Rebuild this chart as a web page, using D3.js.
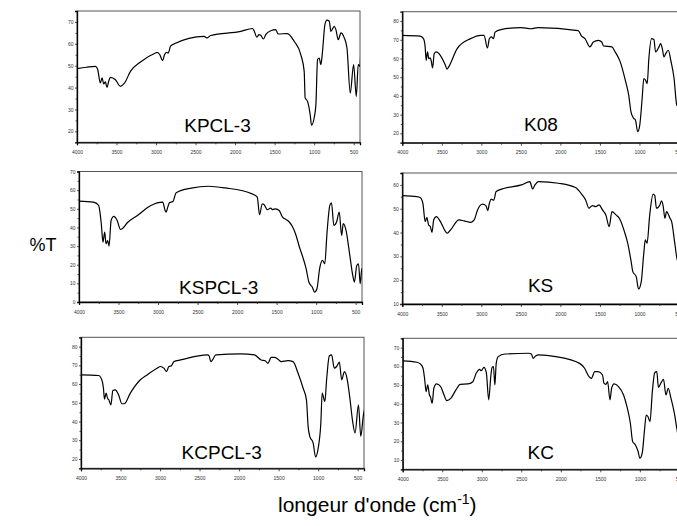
<!DOCTYPE html>
<html>
<head>
<meta charset="utf-8">
<script src="https://cdn.jsdelivr.net/npm/d3@7"></script>
<style>
  html, body { margin: 0; padding: 0; background: #fff; }
  svg { display: block; }
</style>
</head>
<body>
<svg id="chart" width="677" height="526"></svg>
<script>
// ---------- DATA (wavenumber cm-1, %T) ----------
const KPCL3 = [[4000,48.7],[3880,49.3],[3768,49.7],[3740,48.5],[3704,42.1],[3683,44.4],[3662,41.7],[3641,42.6],[3620,40.1],[3599,42.9],[3577,44.7],[3514,43.6],[3451,40.6],[3400,42],[3324,47.4],[3197,51.7],[3007,55.8],[2986,56.1],[2952,55],[2918,52.3],[2893,55],[2867,56.1],[2846,55.8],[2817,58.9],[2774,59.9],[2394,63.4],[2352,62.7],[2310,63.8],[1929,65.7],[1781,67],[1760,66],[1726,63.1],[1697,64.2],[1676,63.9],[1642,62.2],[1612,64.2],[1549,66],[1486,66.5],[1456,64.5],[1338,64.7],[1253,61.2],[1169,55.1],[1126,47.4],[1114,35.3],[1084,33.7],[1050,27.6],[1033,22.8],[1000,26.1],[978,32.2],[957,52.8],[936,53.5],[915,50.5],[894,56.6],[864,68.8],[839,70.8],[809,70.3],[788,65.7],[746,68],[725,66.5],[695,61.9],[661,65],[619,62.7],[585,58.1],[543,37.5],[501,50.5],[467,36],[442,50.5],[421,49.7],[408,59.5]];

const K08 = [[4000,72.4],[3774,72],[3732,70.6],[3711,66.2],[3698,59],[3681,63.5],[3664,59.9],[3647,60.3],[3634,58.7],[3617,55],[3596,62.6],[3570,63.5],[3519,61.7],[3455,56.4],[3434,54.3],[3413,55.5],[3306,65.3],[3136,70.6],[3009,72.4],[2966,72.4],[2923,65.6],[2898,70.6],[2872,71.5],[2847,70.6],[2826,74.1],[2753,75.4],[2498,76.5],[2370,75.9],[2285,76.5],[1775,74.9],[1732,72],[1689,70.6],[1626,66.2],[1583,68.8],[1519,69.7],[1477,68.8],[1455,66.7],[1349,66.2],[1307,63.5],[1243,58.2],[1179,48.4],[1136,40.4],[1107,31.5],[1073,28],[1051,27.1],[1022,20.9],[996,24.4],[966,38.6],[945,49.3],[923,48.4],[902,46.6],[881,59.9],[847,70.6],[817,70.1],[796,63.5],[753,66.2],[732,67.9],[711,65.3],[690,60.8],[668,62.6],[634,64.4],[604,59.1],[562,49.3],[528,35.1],[507,34.2],[494,40.4],[470,50]];

const KSPCL3 = [[4000,54.1],[3816,53.6],[3752,51.8],[3718,42],[3697,32.1],[3675,37.5],[3658,31.2],[3637,33],[3620,30],[3594,43.7],[3560,45.9],[3517,43.7],[3475,38.9],[3453,39.3],[3389,42.5],[3261,46.4],[3091,51.8],[2941,53.6],[2911,49.1],[2898,48.2],[2877,50.9],[2856,53.2],[2813,53.9],[2770,58.6],[2578,61.1],[2365,62.1],[2151,61.2],[1810,58],[1745,56.2],[1716,46.8],[1682,52.7],[1660,52.3],[1617,49.5],[1575,50.4],[1553,49.6],[1511,50],[1468,49.1],[1425,45.5],[1383,44.3],[1340,42.9],[1297,40.2],[1254,35.7],[1212,29.5],[1169,24.1],[1127,17.9],[1092,10.7],[1049,8],[1020,5.3],[990,7.1],[956,17.9],[921,22.3],[891,20.5],[862,37.5],[827,51.8],[806,53.2],[776,41.1],[742,42.9],[708,48.2],[678,35.7],[657,42],[622,38.4],[580,26.8],[537,14.3],[516,10.7],[486,19.6],[464,20.5],[443,9.8],[422,17.9],[400,17.9],[379,25]];

const KS = [[4000,55.5],[3816,55.1],[3774,54.7],[3740,52.3],[3710,44.6],[3689,46.3],[3667,43.2],[3646,42.5],[3624,40.1],[3603,45.3],[3569,46.7],[3518,44.6],[3453,40.4],[3432,39.7],[3389,41.1],[3283,45.3],[3219,44.9],[3133,44.3],[3091,45.3],[3048,49.5],[2984,51.9],[2941,51.2],[2920,49.2],[2898,52.3],[2877,54],[2843,53.6],[2813,57.2],[2706,58.6],[2493,60],[2386,61.4],[2352,58.3],[2322,60],[2279,61.4],[2023,60.7],[1810,58.9],[1724,55.8],[1681,53.7],[1639,50.2],[1596,51.3],[1553,50.9],[1510,51.6],[1468,49.5],[1425,47.4],[1383,42.5],[1348,48.8],[1297,47.4],[1254,46],[1190,40.4],[1148,35.5],[1105,27.8],[1084,23.6],[1041,21.5],[1011,16.3],[977,19.4],[947,30.6],[926,36.9],[904,35.5],[870,47.4],[827,56.1],[806,55.5],[785,50.2],[742,51.6],[721,53.3],[699,50.9],[678,46],[657,48.8],[614,46],[593,44.6],[550,34.8],[516,27.8],[494,28.5],[482,34.1],[460,40]];

const KCPCL3 = [[4000,64.9],[3779,64.6],[3737,62.3],[3716,57.8],[3703,52],[3682,55.2],[3665,52.5],[3648,51.6],[3622,48.9],[3597,56.6],[3567,56.9],[3525,54.3],[3482,49.5],[3453,49.5],[3376,55.2],[3249,62.3],[3164,64.9],[3037,68.5],[2994,69.4],[2952,68.5],[2918,66.7],[2888,69.4],[2858,69.7],[2824,72],[2740,72.9],[2400,75.6],[2379,75],[2358,72],[2337,72.9],[2294,75.6],[1976,76.1],[1806,75.6],[1721,72.9],[1670,72.5],[1636,71.1],[1594,74.3],[1551,74.3],[1509,73.3],[1466,72],[1381,72.5],[1318,72],[1254,65.8],[1190,57.8],[1148,51.6],[1127,37.4],[1106,32.1],[1063,28.5],[1033,21.1],[999,25.9],[966,39.2],[949,55.2],[915,50.7],[893,62.3],[859,75],[830,75.6],[796,68.5],[766,69.4],[732,71.7],[702,62.3],[668,66.7],[635,63.1],[596,51.6],[567,41],[533,33.9],[490,48.9],[461,32.1],[427,43.6],[405,48]];

const KC = [[4000,62.9],[3820,62.2],[3777,61.3],[3743,59],[3721,52.7],[3704,46.5],[3683,50.1],[3662,44.7],[3649,43.8],[3627,40.3],[3606,48.3],[3572,50.6],[3520,49.2],[3477,44.7],[3443,41.7],[3392,42.9],[3327,47.4],[3272,50.4],[3177,50.6],[3113,51.8],[3070,56.3],[3027,58.4],[3006,57.7],[2972,59.5],[2942,56.6],[2912,42.1],[2886,54.5],[2869,59.5],[2852,59.9],[2834,50.1],[2817,61.6],[2792,65.2],[2706,66.6],[2406,67],[2372,66.6],[2350,64.3],[2320,65.5],[2277,66.1],[2063,65.2],[1763,61.6],[1699,59],[1643,54.5],[1613,53.6],[1571,57.2],[1528,57.2],[1472,55.4],[1455,51],[1430,50.4],[1408,51.8],[1378,42.1],[1357,48.3],[1327,50.6],[1270,49.2],[1206,44.7],[1163,38.5],[1120,29.6],[1091,19.8],[1056,18],[1022,14.5],[1000,10.9],[970,13.6],[941,26],[919,34],[898,33.2],[872,30.5],[842,46.5],[812,56.6],[786,57.2],[765,48.8],[735,51],[701,53.1],[670,44.7],[641,48.3],[606,42.9],[563,34.9],[529,26],[499,19.8],[478,27.8],[460,35]];

const sampleNames = ["KPCL-3", "K08", "KSPCL-3", "KS", "KCPCL-3", "KC"];
const xTickLabels = [4000, 3500, 3000, 2500, 2000, 1500, 1000, 500];
const yTicksKPCL3  = [20, 30, 40, 50, 60, 70];
const yTicksK08    = [20, 30, 40, 50, 60, 70, 80];
const yTicksKSPCL3 = [0, 10, 20, 30, 40, 50, 60, 70];
const yTicksKS     = [10, 20, 30, 40, 50, 60];
const yTicksKCPCL3 = [20, 30, 40, 50, 60, 70, 80];
const yTicksKC     = [10, 20, 30, 40, 50, 60, 70];
const yDomains = [[15, 75], [15, 85], [0, 70], [10, 65], [15, 85], [5, 75]];
const xDomain = [4000, 420];
const yAxisTitle = "%T";
const xAxisTitle = "longeur d'onde (cm";

// ---------- LAYOUT ----------
const seriesList = [KPCL3, K08, KSPCL3, KS, KCPCL3, KC];
const yTickList = [yTicksKPCL3, yTicksK08, yTicksKSPCL3, yTicksKS, yTicksKCPCL3, yTicksKC];
const boxes = [
  {x0: 77,    x1: 360,   y0: 11,    y1: 142.3, lx: 217.5, ly: 131.7},
  {x0: 402.3, x1: 685.3, y0: 11.7,  y1: 142.7, lx: 541,   ly: 131},
  {x0: 79,    x1: 362,   y0: 171.5, y1: 302,   lx: 218.7, ly: 294.3},
  {x0: 402.3, x1: 685.3, y0: 173,   y1: 304,   lx: 540.6, ly: 291.7},
  {x0: 81,    x1: 364,   y0: 337.3, y1: 468.3, lx: 221.7, ly: 459.3},
  {x0: 402.7, x1: 685.7, y0: 338.3, y1: 469.3, lx: 540.7, ly: 459.3}
];

const svg = d3.select("#chart");
const font = "'Liberation Sans', Arial, Helvetica, sans-serif";
const defs = svg.append("defs");

boxes.forEach((b, i) => {
  const x = d3.scaleLinear().domain(xDomain).range([b.x0, b.x1]);
  const y = d3.scaleLinear().domain(yDomains[i]).range([b.y1, b.y0]);
  const g = svg.append("g");

  defs.append("clipPath").attr("id", "clip" + i)
    .append("rect").attr("x", b.x0).attr("y", b.y0)
    .attr("width", b.x1 - b.x0).attr("height", b.y1 - b.y0);

  // frame
  g.append("rect").attr("x", b.x0).attr("y", b.y0)
    .attr("width", b.x1 - b.x0).attr("height", b.y1 - b.y0)
    .attr("fill", "none").attr("stroke", "#555").attr("stroke-width", 1);

  // x axis
  const minorX = d3.range(3750, 400, -250).filter(v => v % 500 !== 0);
  const xAxis = d3.axisBottom(x).tickValues(xTickLabels).tickSize(3).tickPadding(5)
    .tickFormat(d3.format("d"));
  const gx = g.append("g").attr("transform", `translate(0,${b.y1})`).call(xAxis);
  gx.selectAll("line").attr("stroke", "#222").attr("stroke-width", 0.8);
  const gxm = g.append("g").attr("transform", `translate(0,${b.y1})`)
    .call(d3.axisBottom(x).tickValues(minorX).tickSize(2).tickFormat(""));
  gxm.select(".domain").remove();
  gxm.selectAll("line").attr("stroke", "#222").attr("stroke-width", 0.8);

  // y axis
  const yt = yTickList[i];
  const minorY = yt.slice(0, -1).map(v => v + 5);
  const yAxis = d3.axisLeft(y).tickValues(yt).tickSize(2).tickPadding(1.5)
    .tickFormat(d3.format("d"));
  const gy = g.append("g").attr("transform", `translate(${b.x0},0)`).call(yAxis);
  gy.selectAll("line").attr("stroke", "#222").attr("stroke-width", 0.8);
  const gym = g.append("g").attr("transform", `translate(${b.x0},0)`)
    .call(d3.axisLeft(y).tickValues(minorY).tickSize(1.5).tickFormat(""));
  gym.select(".domain").remove();
  gym.selectAll("line").attr("stroke", "#222").attr("stroke-width", 0.8);

  [gx, gy].forEach(a => {
    a.select(".domain").attr("stroke", "#000").attr("stroke-width", 1.3);
    a.selectAll("text").attr("font-family", font).attr("font-size", 5)
      .attr("fill", "#333");
  });

  // spectrum
  const line = d3.line().x(d => x(d[0])).y(d => y(d[1])).curve(d3.curveMonotoneX);
  g.append("path").datum(seriesList[i]).attr("d", line)
    .attr("clip-path", `url(#clip${i})`)
    .attr("fill", "none").attr("stroke", "#000").attr("stroke-width", 1.2)
    .attr("stroke-linejoin", "round");

  // sample label
  g.append("text").attr("x", b.lx).attr("y", b.ly).attr("text-anchor", "middle")
    .attr("font-family", font).attr("font-size", 19).attr("fill", "#000")
    .text(sampleNames[i]);
});

// axis titles
svg.append("text").attr("x", 43).attr("y", 251).attr("text-anchor", "middle")
  .attr("font-family", font).attr("font-size", 18).text(yAxisTitle);

const xt = svg.append("text").attr("x", 278).attr("y", 512).attr("text-anchor", "start")
  .attr("font-family", font).attr("font-size", 21);
xt.append("tspan").text(xAxisTitle);
xt.append("tspan").attr("font-size", 14).attr("dy", -8).text("-1");
xt.append("tspan").attr("dy", 8).text(")");
</script>
</body>
</html>
